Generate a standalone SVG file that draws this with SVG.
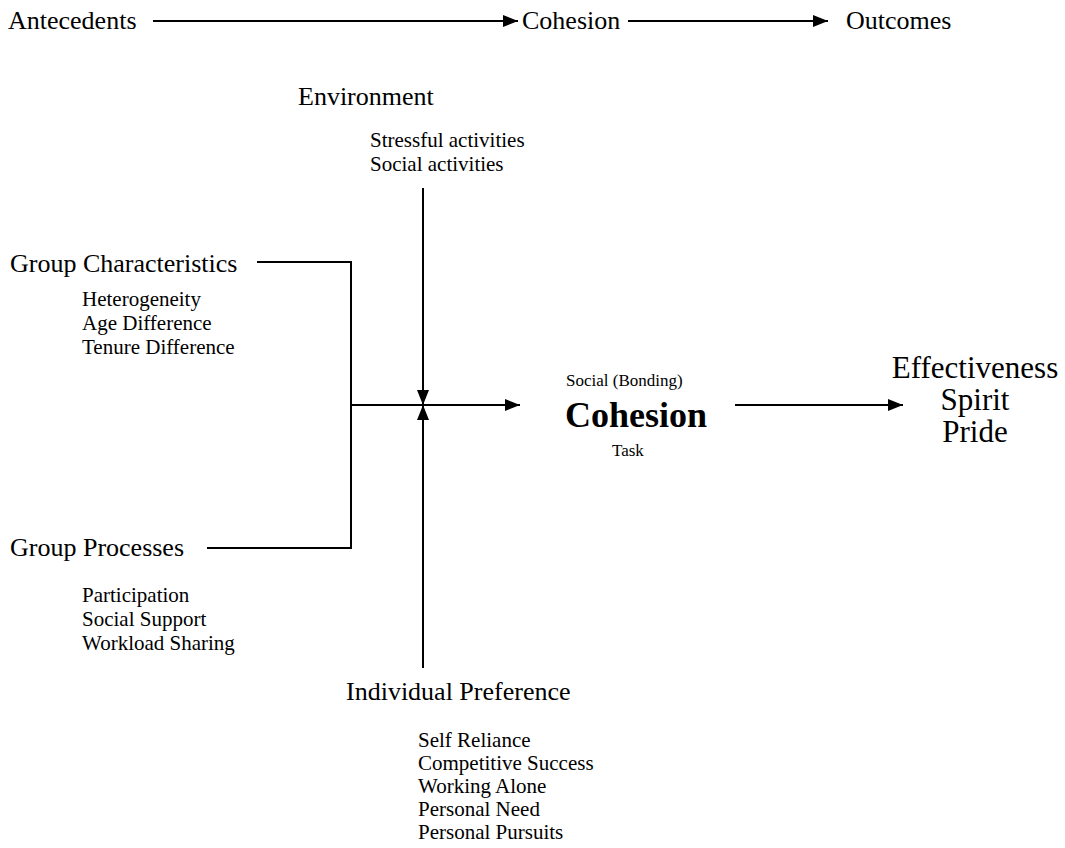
<svg xmlns="http://www.w3.org/2000/svg" width="1065" height="848" viewBox="0 0 1065 848">
<style>
text{font-family:"Liberation Serif","Times New Roman",serif;fill:#000}
.h{font-size:26px}
.s{font-size:21px}
.c{font-size:17px}
.b{font-size:36px;font-weight:bold}
.o{font-size:31px}
.ln{stroke:#000;stroke-width:2;fill:none}
</style>
<defs>
<marker id="ah" viewBox="0 0 15 12" refX="15" refY="6" markerWidth="15" markerHeight="12" markerUnits="userSpaceOnUse" orient="auto">
<path d="M0,0 L15,6 L0,12 Z" fill="#000"/>
</marker>
</defs>
<rect width="1065" height="848" fill="#fff"/>
<g id="header">
<text class="h" x="8" y="29">Antecedents</text>
<text class="h" x="522" y="29">Cohesion</text>
<text class="h" x="846" y="29">Outcomes</text>
</g>
<g id="environment">
<text class="h" x="298" y="105">Environment</text>
<text class="s" x="370" y="147">Stressful activities</text>
<text class="s" x="370" y="171">Social activities</text>
</g>
<g id="group-characteristics">
<text class="h" x="10" y="272">Group Characteristics</text>
<text class="s" x="82" y="306">Heterogeneity</text>
<text class="s" x="82" y="330">Age Difference</text>
<text class="s" x="82" y="354">Tenure Difference</text>
</g>
<g id="group-processes">
<text class="h" x="10" y="556">Group Processes</text>
<text class="s" x="82" y="602">Participation</text>
<text class="s" x="82" y="626">Social Support</text>
<text class="s" x="82" y="650">Workload Sharing</text>
</g>
<g id="individual-preference">
<text class="h" x="346" y="700">Individual Preference</text>
<text class="s" x="418" y="747">Self Reliance</text>
<text class="s" x="418" y="770">Competitive Success</text>
<text class="s" x="418" y="793">Working Alone</text>
<text class="s" x="418" y="816">Personal Need</text>
<text class="s" x="418" y="839">Personal Pursuits</text>
</g>
<g id="cohesion">
<text class="c" x="566" y="386">Social (Bonding)</text>
<text class="b" x="565" y="427">Cohesion</text>
<text class="c" x="612" y="456">Task</text>
</g>
<g id="outcomes">
<text class="o" x="975" y="378" text-anchor="middle">Effectiveness</text>
<text class="o" x="975" y="410" text-anchor="middle">Spirit</text>
<text class="o" x="975" y="442" text-anchor="middle">Pride</text>
</g>
<g id="connectors">
<line class="ln" x1="153" y1="21" x2="518" y2="21" marker-end="url(#ah)"/>
<line class="ln" x1="628" y1="21" x2="828" y2="21" marker-end="url(#ah)"/>
<polyline class="ln" points="257,262 351,262 351,548 207,548"/>
<line class="ln" x1="351" y1="405" x2="520" y2="405" marker-end="url(#ah)"/>
<line class="ln" x1="423" y1="188" x2="423" y2="405" marker-end="url(#ah)"/>
<line class="ln" x1="423" y1="668" x2="423" y2="405" marker-end="url(#ah)"/>
<line class="ln" x1="735" y1="405" x2="903" y2="405" marker-end="url(#ah)"/>
</g>
</svg>
